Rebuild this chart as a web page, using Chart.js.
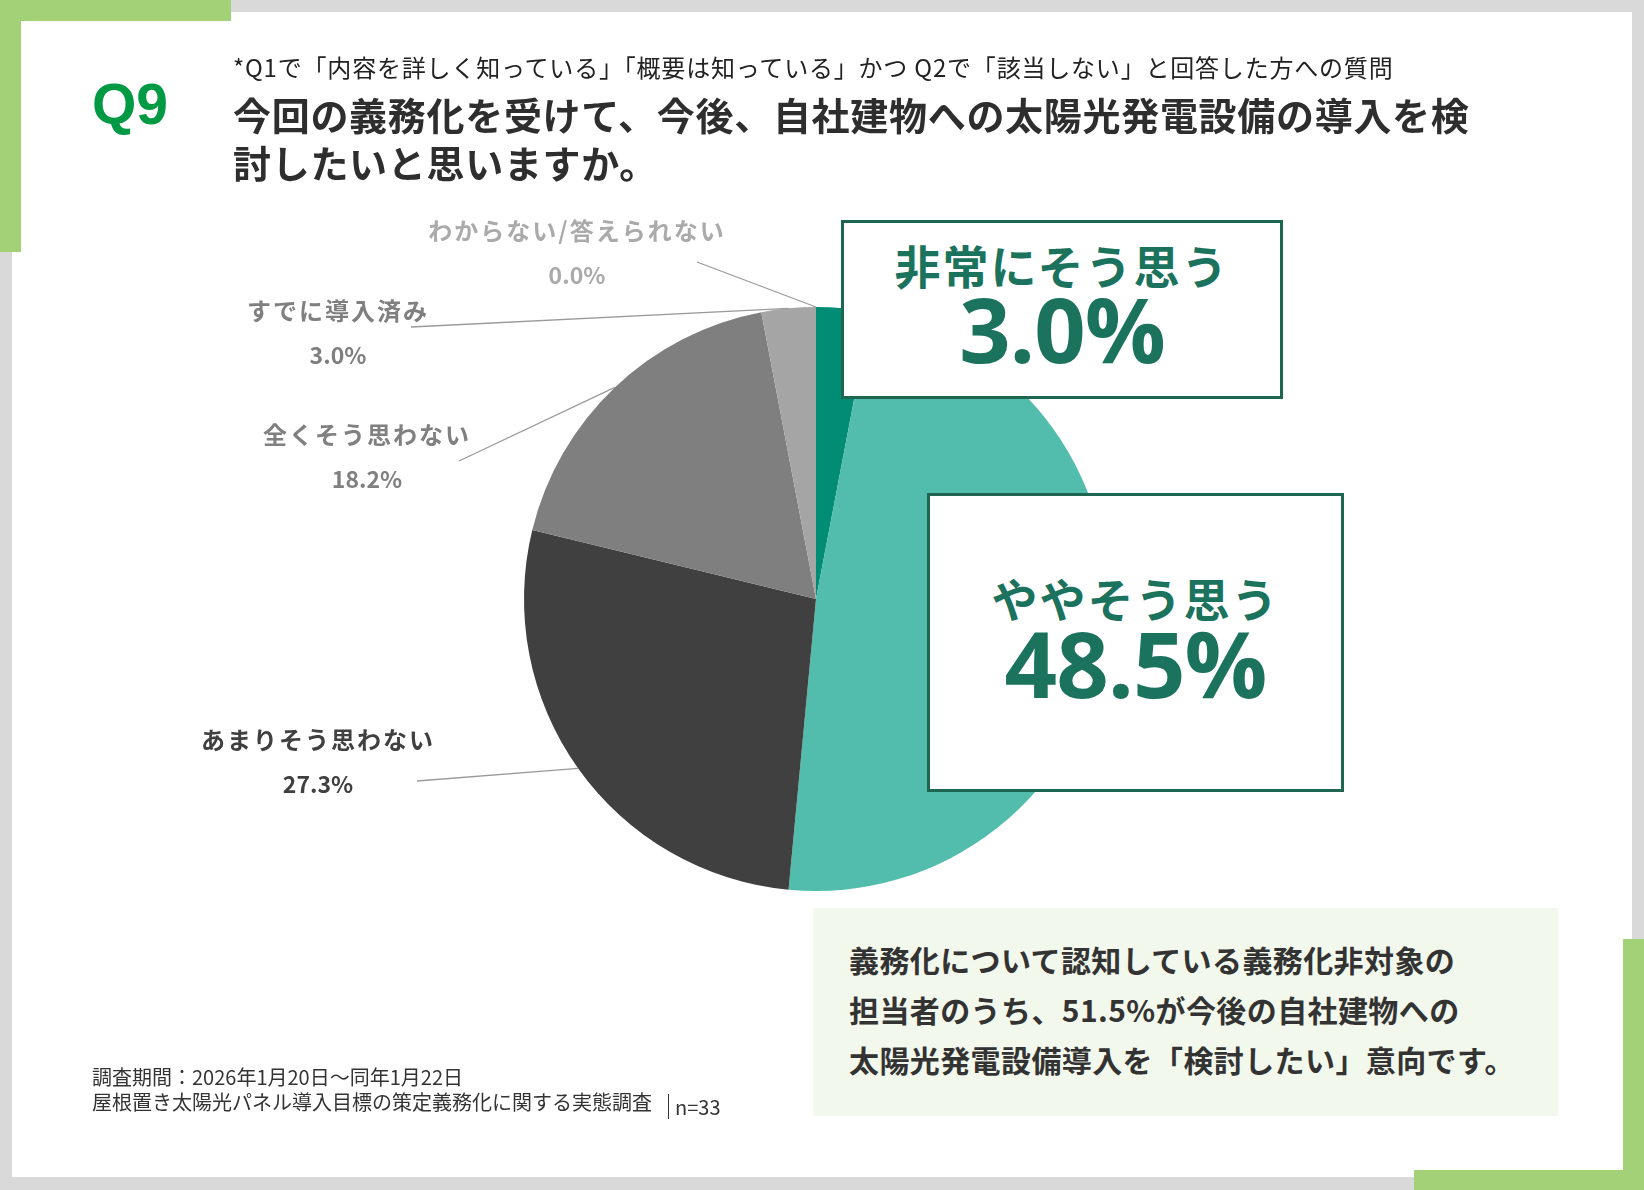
<!DOCTYPE html>
<html lang="ja">
<head>
<meta charset="utf-8">
<title>Q9</title>
<script src="https://cdn.jsdelivr.net/npm/chart.js@4.4.1/dist/chart.umd.min.js"></script>
<style>
  html, body { margin: 0; padding: 0; }
  body { width: 1644px; height: 1190px; position: relative; overflow: hidden; background: #d9d9d9; font-family: "Noto Sans CJK JP", "Noto Sans", sans-serif; }
  .abs { position: absolute; }
  #card { left: 12px; top: 12px; width: 1620px; height: 1165px; background: #fff; }
  .green { background: #a3d178; }
  #chart { left: 0; top: 0; }
  #q9 { left: 92px; top: 76px; font: bold 57px/1 "Liberation Sans", Arial, sans-serif; color: #009a44; }
  #sub { left: 233px; top: 55px; font-size: 24px; line-height: 1; color: #222; white-space: nowrap; letter-spacing: 0.8px; }
  #title { left: 233px; top: 90px; font-size: 38px; line-height: 48px; font-weight: 700; color: #2e2e2e; letter-spacing: 0.7px; white-space: nowrap; }
  .callout { background: #fff; border: 3px solid #1f6650; box-sizing: border-box; color: #1b735e; text-align: center; z-index: 2; }
  .callout .cat { position: absolute; left: 0; right: 0; font-size: 46px; line-height: 1; font-weight: 700; letter-spacing: 2px; }
  .callout .val { position: absolute; left: 0; right: 0; font-family: "Open Sans", sans-serif; font-weight: 700; line-height: 1; letter-spacing: -1px; }
  #summary { left: 813px; top: 908px; width: 745px; height: 208px; background: #f3f8ec; z-index: 2; }
  #summary div { position: absolute; left: 36px; top: 26px; font-size: 30px; line-height: 50px; font-weight: 700; color: #333; white-space: nowrap; letter-spacing: 0.4px; }
  #foot { left: 92px; top: 1064px; font-size: 20px; line-height: 25px; color: #333; white-space: nowrap; }
  #foot .sep { display: inline-block; border-left: 1.5px solid #333; height: 25px; vertical-align: -5px; margin-left: 16px; padding-left: 6px; }
</style>
</head>
<body>
<div id="card" class="abs"></div>
<div class="abs green" style="left:0;top:0;width:231px;height:21px;"></div>
<div class="abs green" style="left:0;top:0;width:21px;height:252px;"></div>
<div class="abs green" style="left:1623px;top:939px;width:21px;height:251px;"></div>
<div class="abs green" style="left:1414px;top:1170px;width:230px;height:20px;"></div>

<canvas id="chart" class="abs" width="1644" height="1190"></canvas>

<div id="q9" class="abs">Q9</div>
<div id="sub" class="abs">*Q1で「内容を詳しく知っている」「概要は知っている」かつ Q2で「該当しない」と回答した方への質問</div>
<div id="title" class="abs">今回の義務化を受けて、今後、自社建物への太陽光発電設備の導入を検<br>討したいと思いますか。</div>

<div id="box1" class="abs callout" style="left:841px;top:220px;width:442px;height:179px;">
  <div class="cat" style="top:18px;"></div>
  <div class="val" style="top:60px;font-size:90px;"></div>
</div>
<div id="box2" class="abs callout" style="left:927px;top:493px;width:417px;height:299px;">
  <div class="cat" style="top:78px;"></div>
  <div class="val" style="top:121px;font-size:92px;"></div>
</div>

<div id="summary" class="abs"><div>義務化について認知している義務化非対象の<br>担当者のうち、51.5%が今後の自社建物への<br>太陽光発電設備導入を「検討したい」意向です。</div></div>

<div id="foot" class="abs">調査期間：2026年1月20日～同年1月22日<br>屋根置き太陽光パネル導入目標の策定義務化に関する実態調査<span class="sep">n=33</span></div>

<script>
// 回答の選択肢と割合（%）
const categories = ['非常にそう思う', 'ややそう思う', 'あまりそう思わない', '全くそう思わない', 'すでに導入済み', 'わからない/答えられない']
const values = [3.0, 48.5, 27.3, 18.2, 3.0, 0.0]
const sliceColors = ['#008c75', '#52bdac', '#404040', '#7f7f7f', '#a5a5a5', '#d0d0d0']

// 枠付きの大きな表示（上位2項目）
const boxIds = ['box1', 'box2']
boxIds.forEach((id, i) => {
    const box = document.getElementById(id)
    box.querySelector('.cat').textContent = categories[i]
    box.querySelector('.val').textContent = values[i].toFixed(1) + '%'
})

// 円の外側のラベル: 位置は文字の中心と引き出し線の始点
const sideLabels = [
    { index: 2, x: 318, y: 740, lineX: 417, lineY: 781, color: '#404040' },
    { index: 3, x: 367, y: 435, lineX: 459, lineY: 461, color: '#808080' },
    { index: 4, x: 338, y: 311, lineX: 411, lineY: 327, color: '#7f7f7f' },
    { index: 5, x: 577, y: 231, lineX: 697, lineY: 262, color: '#aaaaaa' }
]

const sideLabelPlugin = {
    id: 'sideLabels',
    afterDatasetsDraw(chart) {
        const ctx = chart.ctx
        const meta = chart.getDatasetMeta(0)
        sideLabels.forEach(item => {
            const arc = meta.data[item.index]
            const p = arc.getProps(['x', 'y', 'startAngle', 'endAngle', 'outerRadius'], true)
            const mid = (p.startAngle + p.endAngle) / 2
            const ex = p.x + Math.cos(mid) * p.outerRadius
            const ey = p.y + Math.sin(mid) * p.outerRadius
            ctx.save()
            ctx.strokeStyle = '#9a9a9a'
            ctx.lineWidth = 1.3
            ctx.beginPath()
            ctx.moveTo(item.lineX, item.lineY)
            ctx.lineTo(ex, ey)
            ctx.stroke()
            ctx.fillStyle = item.color
            ctx.textAlign = 'center'
            ctx.textBaseline = 'middle'
            ctx.font = 'bold 24px "Noto Sans CJK JP"'
            ctx.letterSpacing = '2px'
            ctx.fillText(categories[item.index], item.x, item.y)
            ctx.letterSpacing = '0px'
            ctx.font = 'bold 23px "Noto Sans CJK JP"'
            ctx.fillText(values[item.index].toFixed(1) + '%', item.x, item.y + 44)
            ctx.restore()
        })
    }
}

const ctx = document.getElementById('chart')
const myChart = new Chart(ctx, {
    type: 'pie',
    data: {
        labels: categories,
        datasets: [{
            data: values,
            backgroundColor: sliceColors,
            borderWidth: 0
        }]
    },
    options: {
        responsive: false,
        animation: false,
        devicePixelRatio: 1,
        events: [],
        layout: {
            padding: { left: 524, right: 536, top: 307, bottom: 299 }
        },
        plugins: {
            legend: { display: false },
            tooltip: { enabled: false }
        }
    },
    plugins: [sideLabelPlugin]
})
</script>
</body>
</html>
